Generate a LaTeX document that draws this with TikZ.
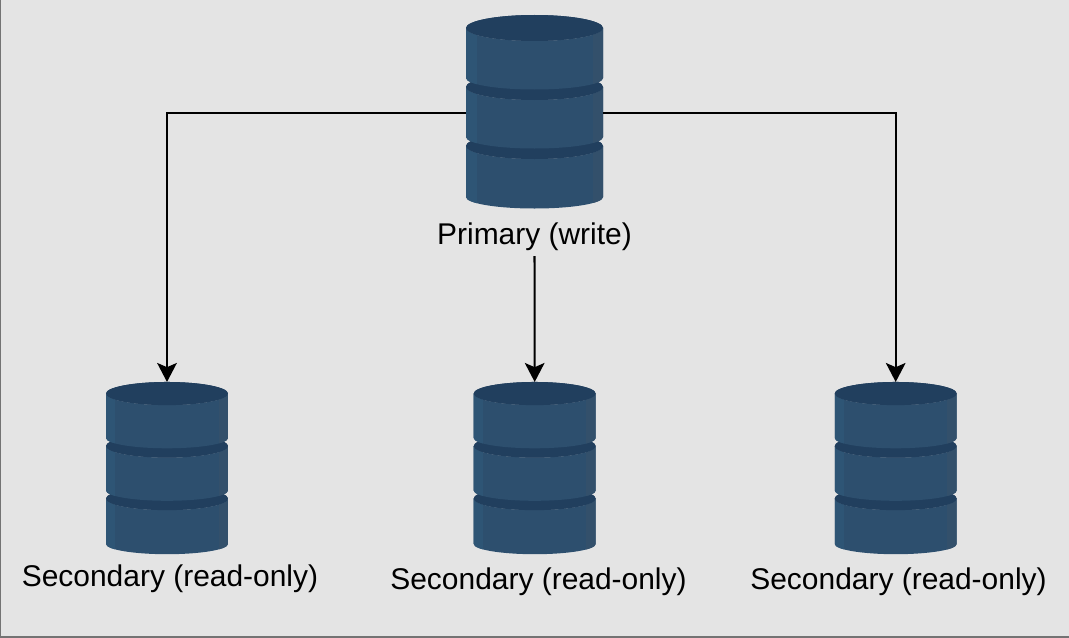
\documentclass[tikz,border=0pt]{standalone}
\usepackage{fontspec}
\setmainfont{Liberation Sans}
\usetikzlibrary{arrows.meta}
\definecolor{dbBody}{HTML}{2D4F6E}
\definecolor{dbDark}{HTML}{213F5E}
\definecolor{dbLeft}{HTML}{2E5575}
\definecolor{dbRight}{HTML}{33506B}
\definecolor{paper}{HTML}{E4E4E4}
\tikzset{
  dbBox/.style={inner sep=0pt, outer sep=0pt, minimum width=#1*3.425cm, minimum height=#1*4.9cm},
  dbLabel/.style={font=\fontsize{21.3}{25}\selectfont, inner sep=0pt},
  link/.style={-{Stealth[length=13.5pt,width=14pt,inset=3pt]}, line width=1.45pt, black},
  dbStack/.pic={
    \foreach \t/\b in {33/84, -26/24, -85/-35} {
      \fill[dbDark] (0,\t) ellipse[x radius=68.5, y radius=13];
      \begin{scope}
        \clip (-68.5,\t) -- (-68.5,\b) arc[start angle=180, end angle=0, x radius=68.5, y radius=11.5] -- (68.5,\t) arc[start angle=0, end angle=180, x radius=68.5, y radius=13] -- cycle;
        \fill[dbBody] (-70,\t-15) rectangle (70,\b+13);
        \fill[dbLeft] (-70,\t-15) rectangle (-58,\b+13);
        \fill[dbRight] (58,\t-15) rectangle (70,\b+13);
      \end{scope}
      \fill[dbDark] (0,\t) ellipse[x radius=68.5, y radius=13];
    }
  }
}
\begin{document}
\begin{tikzpicture}[x=0.025cm, y=-0.025cm]
    \useasboundingbox (0,0) rectangle (1069,637);
    \fill[paper] (0,0) rectangle (1069,637);
    \draw[line width=1.6pt, black!55] (0,0) -- (0,637) -- (1069,637);
    \node[dbBox=1] (primary) at (534.5,113) {};
    \node[dbBox=0.89] (secA) at (167,469.2) {};
    \node[dbBox=0.89] (secB) at (534.7,469.2) {};
    \node[dbBox=0.89] (secC) at (895.7,469.2) {};
    \pic at (primary) {dbStack};
    \pic[scale=0.89] at (secA) {dbStack};
    \pic[scale=0.89] at (secB) {dbStack};
    \pic[scale=0.89] at (secC) {dbStack};
    \node[dbLabel] (lblPrimary) at (534.5,237) {Primary (write)};
    \node[dbLabel] (lblA) at (170,579) {Secondary (read-only)};
    \node[dbLabel] (lblB) at (538.5,582) {Secondary (read-only)};
    \node[dbLabel] (lblC) at (898.5,582) {Secondary (read-only)};
    \draw[link] (primary.west) -| (secA.north);
    \draw[link] (primary.east) -| (secC.north);
    \draw[link] (lblPrimary.south) ++(0,5) -- (secB.north);
\end{tikzpicture}
\end{document}
